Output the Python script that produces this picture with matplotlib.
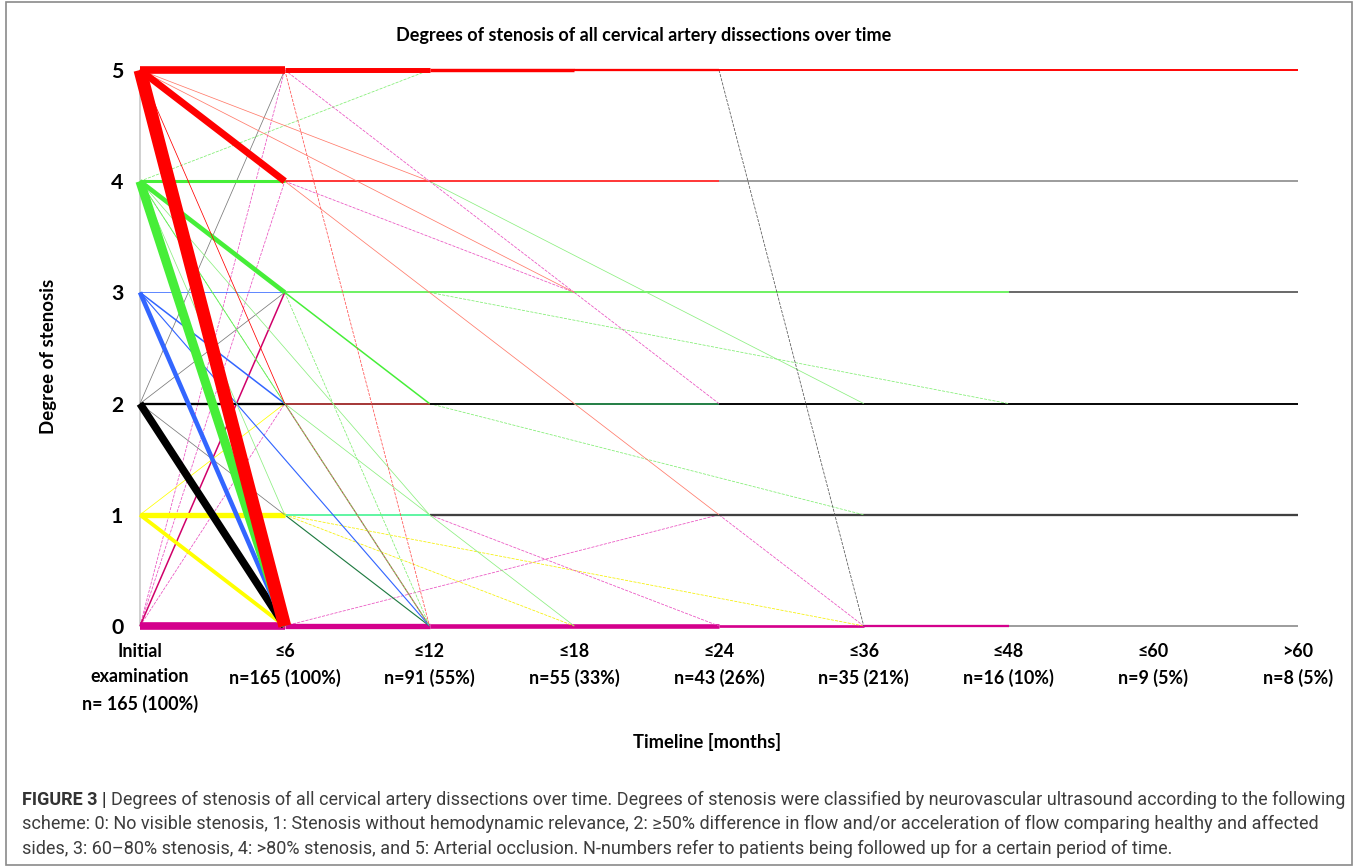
import matplotlib
matplotlib.use("Agg")
import matplotlib.pyplot as plt
from matplotlib.patches import Rectangle

# ---------------- data ----------------
time_labels = ["Initial\nexamination\nn= 165 (100%)", "≤6\nn=165 (100%)", "≤12\nn=91 (55%)",
               "≤18\nn=55 (33%)", "≤24\nn=43 (26%)", "≤36\nn=35 (21%)", "≤48\nn=16 (10%)",
               "≤60\nn=9 (5%)", ">60\nn=8 (5%)"]
degree_ticks = [0, 1, 2, 3, 4, 5]

# transitions: time index from/to, degree from/to, approx. weight (patients), colour group
seg_t0 = [0, 0, 0, 0, 0, 0, 0, 0, 0, 0, 0, 0, 0, 0, 0, 0, 0, 0, 0, 0, 0, 0, 0, 0, 0, 0, 0, 0, 0, 0, 0,
          1, 1, 1, 1, 1, 1, 1, 1, 1, 1, 1, 1, 1, 1, 1, 1, 1, 1,
          2, 3, 2, 3, 4, 2, 2, 2, 2, 2, 3, 4, 2, 2, 2, 2, 4, 4, 4, 4, 5, 6, 6]
seg_d0 = [5, 5, 5, 5, 5, 5, 4, 4, 4, 4, 4, 4, 4, 4, 3, 3, 3, 3, 2, 2, 2, 2, 2, 1, 1, 1, 0, 0, 0, 0, 0,
          5, 5, 5, 4, 4, 4, 3, 3, 3, 2, 2, 2, 1, 1, 1, 1, 0, 0,
          4, 3, 5, 5, 5, 4, 4, 3, 3, 2, 2, 2, 2, 1, 1, 0, 5, 4, 1, 0, 0, 0, 3]
seg_t1 = [1, 1, 1, 1, 3, 2, 1, 1, 1, 2, 1, 1, 2, 2, 1, 1, 1, 2, 1, 1, 1, 1, 1, 1, 1, 1, 1, 1, 1, 1, 1,
          2, 2, 2, 2, 3, 4, 2, 2, 2, 2, 2, 3, 2, 2, 3, 5, 2, 4,
          3, 4, 3, 4, 8, 4, 5, 6, 6, 3, 4, 8, 5, 8, 4, 4, 5, 8, 5, 5, 6, 8, 8]
seg_d1 = [5, 4, 0, 2, 3, 4, 4, 3, 0, 5, 2, 1, 1, 0, 3, 0, 2, 0, 2, 0, 5, 3, 1, 1, 0, 2, 0, 5, 4, 3, 2,
          5, 0, 4, 4, 3, 1, 3, 2, 0, 2, 0, 0, 1, 0, 0, 0, 0, 1,
          3, 2, 5, 5, 5, 4, 2, 3, 2, 2, 2, 2, 1, 1, 0, 0, 0, 4, 0, 0, 0, 0, 3]
seg_n = [10, 9, 17, 1, 1, 1, 4, 6, 12, 1, 1, 1, 1, 1, 1, 6, 2, 1.5, 3, 10, 1, 1, 1, 7, 5, 1, 10, 1, 1, 2, 1,
         6.5, 1, 1, 2, 1, 1, 2, 2, 1, 2, 1.5, 1, 2.5, 1.5, 1, 1, 7, 1,
         1, 1, 4.5, 3, 2.5, 2, 1, 2, 1, 2.5, 2.5, 2.5, 1, 3, 1, 6, 1, 2.5, 1, 3.5, 3, 2.5, 2]
seg_group = ["red", "red", "red", "red", "salmon", "salmon", "green", "green", "green", "lgreen_d",
             "green", "lgreen", "lgreen", "lgreen_d", "blue", "blue", "blue", "blue", "black", "black",
             "grey", "grey", "grey", "yellow", "yellow", "yellow", "magenta", "pink_d", "pink_d",
             "crimson", "pink_d",
             "red", "red_d", "pink_d", "red", "pink_d", "salmon", "green", "green", "lgreen_d",
             "darkred", "brown", "lgreen", "mint", "darkgreen", "yellow_d", "yellow_d", "magenta", "pink_d",
             "pink_d", "pink_d", "red", "red", "red", "red", "lgreen", "green", "lgreen_d", "black",
             "darkgreen", "black", "lgreen_d", "dgrey", "pink_d", "magenta", "grey_d", "lgrey",
             "pink_d", "magenta", "magenta", "lgrey", "dgrey"]

title = "Degrees of stenosis of all cervical artery dissections over time"
xlabel = "Timeline [months]"
ylabel = "Degree of stenosis"
caption_bold = "FIGURE 3 |"
caption_lines = [
    "Degrees of stenosis of all cervical artery dissections over time. Degrees of stenosis were classified by neurovascular ultrasound according to the following",
    "scheme: 0: No visible stenosis, 1: Stenosis without hemodynamic relevance, 2: ≥50% difference in flow and/or acceleration of flow comparing healthy and affected",
    "sides, 3: 60–80% stenosis, 4: >80% stenosis, and 5: Arterial occlusion. N-numbers refer to patients being followed up for a certain period of time.",
]

# ---------------- styles ----------------
group_style = {
    "red": ("#ff0000", False), "red_d": ("#ff5050", True), "salmon": ("#ff7b6b", False),
    "green": ("#46ee38", False), "lgreen": ("#8cef80", False), "lgreen_d": ("#7fee70", True),
    "blue": ("#3366ff", False), "black": ("#000000", False), "grey": ("#7a7a7a", False),
    "grey_d": ("#555555", True), "lgrey": ("#9a9a9a", False), "dgrey": ("#404040", False),
    "yellow": ("#ffff00", False), "yellow_d": ("#f5f000", True), "magenta": ("#d4008c", False),
    "pink_d": ("#ea4fc0", True), "crimson": ("#d0006a", False), "darkred": ("#8b0000", False),
    "brown": ("#b84a4a", False), "mint": ("#5cf5a0", False), "darkgreen": ("#1e7a40", False),
}

W, H = 1357, 866
fig = plt.figure(figsize=(W / 100, H / 100), dpi=100)
ax = fig.add_axes([140 / W, (H - 626) / H, 1158 / W, 556 / H])
ax.set_xlim(0, 8)
ax.set_ylim(0, 5)

for i in range(len(seg_t0)):
    col, dashed = group_style[seg_group[i]]
    ls = (0, (4, 1.6)) if dashed else "-"
    ax.plot([seg_t0[i], seg_t1[i]], [seg_d0[i], seg_d1[i]], color=col, lw=0.55 * seg_n[i],
            ls=ls, solid_capstyle="butt", clip_on=False, zorder=2 + 0.5 * seg_d0[i] + 0.01 * seg_n[i])

chart_font = ["Lato", "DejaVu Sans"]
ax.set_xticks(range(len(time_labels)))
ax.set_xticklabels(time_labels, fontfamily=chart_font, fontweight="bold", fontsize=11,
                   linespacing=1.62)
ax.set_yticks(degree_ticks)
ax.set_yticklabels([str(d) for d in degree_ticks], fontfamily=chart_font, fontweight="bold",
                   fontsize=13)
ax.tick_params(axis="x", length=0, pad=12)
ax.tick_params(axis="y", length=0, pad=12)
for s in ("top", "right", "bottom"):
    ax.spines[s].set_visible(False)
ax.spines["left"].set_color("#c8c8c8")
ax.spines["left"].set_linewidth(1.2)
ax.spines["left"].set_zorder(1)

t_title = fig.text(644 / W, 1 - 35 / H, title, ha="center", va="center", fontfamily=chart_font,
                   fontweight="bold", fontsize=11)
t_xl = fig.text(707 / W, 1 - 742 / H, xlabel, ha="center", va="center", fontfamily=chart_font,
                fontweight="bold", fontsize=11)
t_yl = fig.text(49 / W, 1 - 356 / H, ylabel, ha="center", va="center", rotation=90,
                fontfamily=chart_font, fontweight="bold", fontsize=11)

cap_font = ["Roboto", "DejaVu Sans"]
cap_col = "#3d3d3d"
baselines = [805, 829, 854]
t_bold = fig.text(22 / W, 1 - baselines[0] / H, caption_bold, ha="left", va="baseline",
                  fontfamily=cap_font, fontweight="bold", fontsize=11, color="#333333")
cap_texts = []
for k, line in enumerate(caption_lines):
    cap_texts.append(fig.text(22 / W, 1 - baselines[k] / H, line, ha="left", va="baseline",
                              fontfamily=cap_font, fontsize=11, color=cap_col))

fig.add_artist(Rectangle((5.5 / W, 1.5 / H), (1352 - 5.5) / W, (H - 3.5) / H, transform=fig.transFigure,
                         fill=False, edgecolor="#8a8a8a", lw=1.2))

# ---------------- fit text sizes to the reference widths ----------------
fig.canvas.draw()
r = fig.canvas.get_renderer()


def scale_to(artists, ref, target, vertical=False):
    bb = ref.get_window_extent(r)
    cur = bb.height if vertical else bb.width
    f = target / cur
    for a in artists:
        a.set_fontsize(a.get_fontsize() * f)


xt = ax.get_xticklabels()
yt = ax.get_yticklabels()
fx = 112 / xt[1].get_window_extent(r).width
for a in xt + yt:
    a.set_fontsize(a.get_fontsize() * fx)
scale_to([t_title], t_title, 494)
scale_to([t_xl], t_xl, 148)
scale_to([t_yl], t_yl, 154, vertical=True)

# caption: first line (bold prefix + text) spans about 1320 px
line1_w = t_bold.get_window_extent(r).width + 5 + cap_texts[0].get_window_extent(r).width
fc = 1318 / line1_w
for a in cap_texts + [t_bold]:
    a.set_fontsize(a.get_fontsize() * fc)
fig.canvas.draw()
bw = t_bold.get_window_extent(r).width
cap_texts[0].set_x((22 + bw + 5) / W)

fig.savefig("out.png", dpi=100, facecolor="white")
